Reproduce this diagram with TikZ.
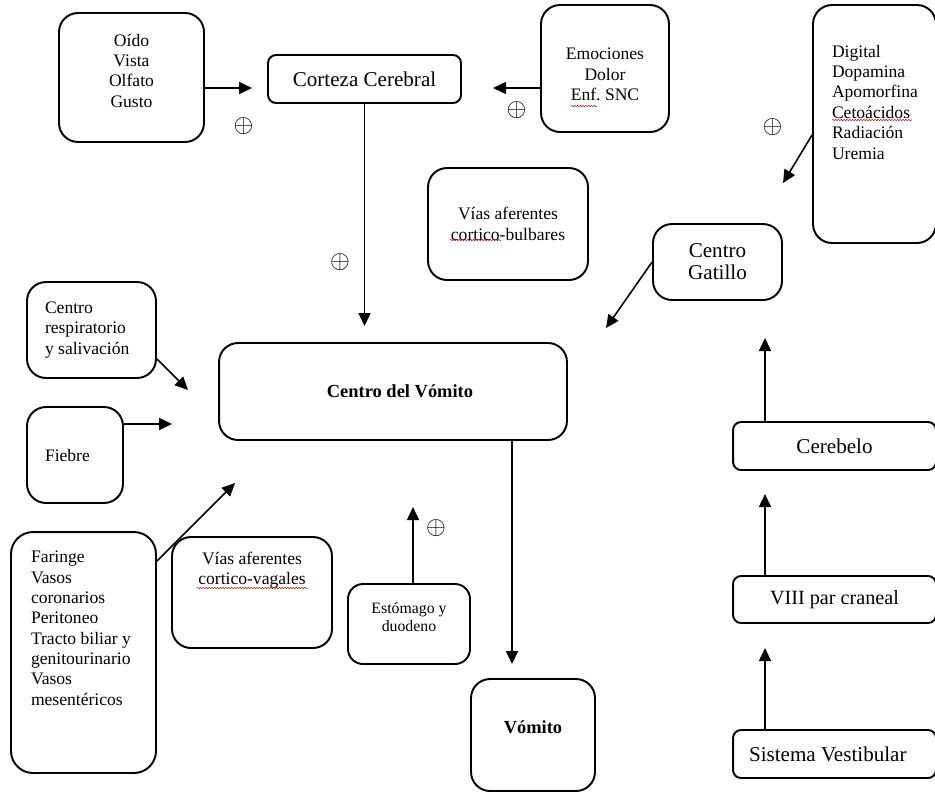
\documentclass[tikz,border=0pt]{standalone}
\usepackage{fontspec}
\setmainfont{Liberation Serif}
\usetikzlibrary{arrows.meta}
\usetikzlibrary{decorations.pathmorphing}

% text pinned to the top of a box: height, width, top gap, text
\newcommand{\toptext}[4]{\parbox[c][#1][t]{#2}{\vspace*{#3}#4}}

\begin{document}
\begin{tikzpicture}[x=0.02cm, y=-0.02cm, >={Triangle[length=2.6mm,width=2.4mm]},
    box/.style={draw, line width=1.1pt, rounded corners=0.38cm, align=center, inner sep=0pt},
    flat/.style={box, rounded corners=0.16cm},
    list/.style={font=\fontsize{10}{11.6}\selectfont},
    big/.style={font=\fontsize{12}{12.6}\selectfont},
    flecha/.style={->, line width=0.9pt},
    errline/.style={red!80!black, line width=0.3pt, decorate, decoration={snake, amplitude=0.35pt, segment length=1.6pt}},
    mas/.style={font=\fontsize{10}{10}\selectfont, inner sep=0pt}]
        \useasboundingbox (0,0) rectangle (935,792);

        % upper row
        \node[box, list] (oido) at (131.5,77.5) {\toptext{2.58cm}{2.9cm}{0.42cm}{\centering
            O\'ido\\Vista\\Olfato\\Gusto}};
        \node[flat, big, minimum width=3.86cm, minimum height=0.96cm] (corteza) at (364.5,79) {Corteza Cerebral};
        \node[box, list] (emoc) at (605,68.5) {\toptext{2.54cm}{2.56cm}{0.86cm}{\centering
            Emociones\\Dolor\\Enf.\ SNC}};
        \node[box, list] (digital) at (874.5,124) {\toptext{4.76cm}{2.46cm}{0.8cm}{\raggedright\leftskip=0.38cm
            Digital\\Dopamina\\Apomorfina\\Ceto\'acidos\\Radiaci\'on\\Uremia}};
        \node[box, list, minimum width=3.2cm, minimum height=2.24cm] (bulbares) at (508,224) {V\'ias aferentes\\cortico-bulbares};
        \node[box, big, minimum width=2.58cm, minimum height=1.52cm] (gatillo) at (717.5,262) {Centro\\Gatillo};

        % centre
        \node[box, list, minimum width=2.58cm, minimum height=1.92cm] (resp) at (91.5,330) {\parbox{1.86cm}{\raggedright
            Centro\\respiratorio\\y salivaci\'on}};
        \node[box, list, minimum width=1.92cm, minimum height=1.92cm] (fiebre) at (75,455) {\parbox{1.2cm}{Fiebre}};
        \node[box, font=\fontsize{10.5}{12}\selectfont\bfseries, minimum width=6.96cm, minimum height=1.94cm] (vomcen) at (393,391.5) {\hspace*{0.28cm}Centro del V\'omito};

        % lower row
        \node[box, list, rounded corners=0.44cm] (faringe) at (83.5,652.5) {\toptext{4.82cm}{2.9cm}{0.38cm}{\raggedright\leftskip=0.4cm
            Faringe\\Vasos\\coronarios\\Peritoneo\\Tracto biliar y\\genitourinario\\Vasos\\mesent\'ericos}};
        \node[box, list] (vagales) at (252,592.5) {\toptext{2.22cm}{3.2cm}{0.3cm}{\centering
            V\'ias aferentes\\cortico-vagales}};
        \node[box, font=\fontsize{9}{10.6}\selectfont, rounded corners=0.3cm] (estom) at (409,624) {\toptext{1.6cm}{2.44cm}{0.36cm}{\centering
            Est\'omago y\\duodeno}};
        \node[box, font=\fontsize{10.5}{12}\selectfont\bfseries] (vomito) at (533,735) {\toptext{2.24cm}{2.48cm}{0.84cm}{\centering V\'omito}};

        % vestibular column
        \node[flat, big, minimum width=4.06cm, minimum height=0.96cm] (cerebelo) at (834.5,446) {Cerebelo};
        \node[flat, font=\fontsize{11.5}{13}\selectfont, minimum width=4.06cm, minimum height=0.94cm] (viii) at (834.5,599.5) {VIII par craneal};
        \node[flat, big, minimum width=4.06cm, minimum height=0.96cm] (sistema) at (834.5,754) {\parbox{3.42cm}{Sistema Vestibular}};

        % spell-check waves
        \draw[errline] (571,106) -- (597,106);
        \draw[errline] (832,120) -- (912,120);
        \draw[errline] (450,240) -- (501,240);
        \draw[errline] (197,588) -- (308,588);

        % free arrow tips
        \coordinate (oidoin) at (252,88);
        \coordinate (emocin) at (493,88);
        \coordinate (cortin) at (364.5,326);
        \coordinate (digin) at (783,183);
        \coordinate (gatin) at (606,328);
        \coordinate (respin) at (188,390);
        \coordinate (fiebrein) at (172,424);
        \coordinate (farin) at (235,483);
        \coordinate (estin) at (413,507);
        \coordinate (vomin) at (512,664);
        \coordinate (sisin) at (765,648);
        \coordinate (viiiin) at (765,494);
        \coordinate (cerin) at (765,338);

        \draw[flecha] (oido.east |- oidoin) -- (oidoin);
        \draw[flecha] (emoc.west |- emocin) -- (emocin);
        \draw[flecha] (corteza) -- (cortin);
        \draw[flecha] ([yshift=-0.22cm]digital.west) -- (digin);
        \draw[flecha] (gatillo.west) -- (gatin);
        \draw[flecha] ([yshift=-0.58cm]resp.east) -- (respin);
        \draw[flecha] (fiebre.east |- fiebrein) -- (fiebrein);
        \draw[flecha] ([yshift=1.83cm]faringe.east) -- (farin);
        \draw[flecha] (estom.north -| estin) -- (estin);
        \draw[flecha] (vomcen.south -| vomin) -- (vomin);
        \draw[flecha] (sistema.north -| sisin) -- (sisin);
        \draw[flecha] (viii.north -| viiiin) -- (viiiin);
        \draw[flecha] (cerebelo.north -| cerin) -- (cerin);

        % plus signs
        \node[mas] (mas1) at (243.5,126) {\scalebox{1.45}{$\oplus$}};
        \node[mas] (mas2) at (516.5,110) {\scalebox{1.45}{$\oplus$}};
        \node[mas] (mas3) at (340,262) {\scalebox{1.45}{$\oplus$}};
        \node[mas] (mas4) at (772.5,127) {\scalebox{1.45}{$\oplus$}};
        \node[mas] (mas5) at (436,528) {\scalebox{1.45}{$\oplus$}};
    \end{tikzpicture}
\end{document}
